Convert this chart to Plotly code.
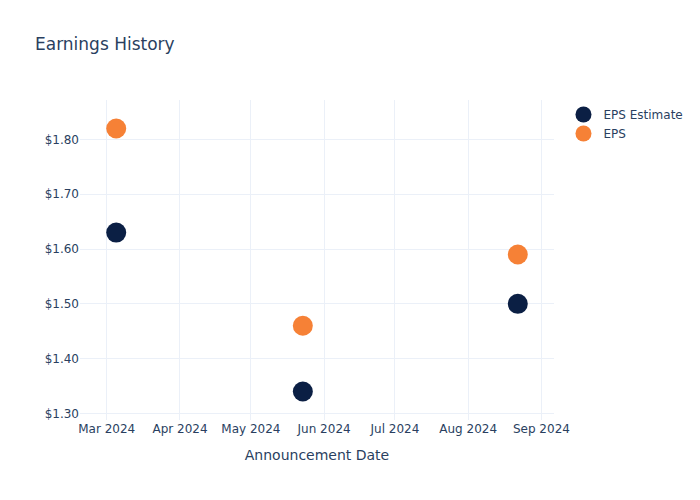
import plotly.graph_objects as go

dates = ["2024-03-05", "2024-05-23", "2024-08-22"]
eps_estimate = [1.63, 1.34, 1.50]
eps_actual = [1.82, 1.46, 1.59]

fig = go.Figure()
fig.add_trace(go.Scatter(x=dates, y=eps_estimate, mode="markers", name="EPS Estimate",
                         marker=dict(color="#0b1f44", size=20)))
fig.add_trace(go.Scatter(x=dates, y=eps_actual, mode="markers", name="EPS",
                         marker=dict(color="#f68136", size=20)))
fig.update_layout(
    template="plotly_white",
    width=700, height=500,
    font=dict(family="DejaVu Sans"),
    title=dict(text="Earnings History"),
    xaxis=dict(title="Announcement Date", tickformat="%b %Y", dtick="M1"),
    yaxis=dict(tickprefix="$", tickformat=".2f", dtick=0.1),
)
fig.write_html("out.html")
